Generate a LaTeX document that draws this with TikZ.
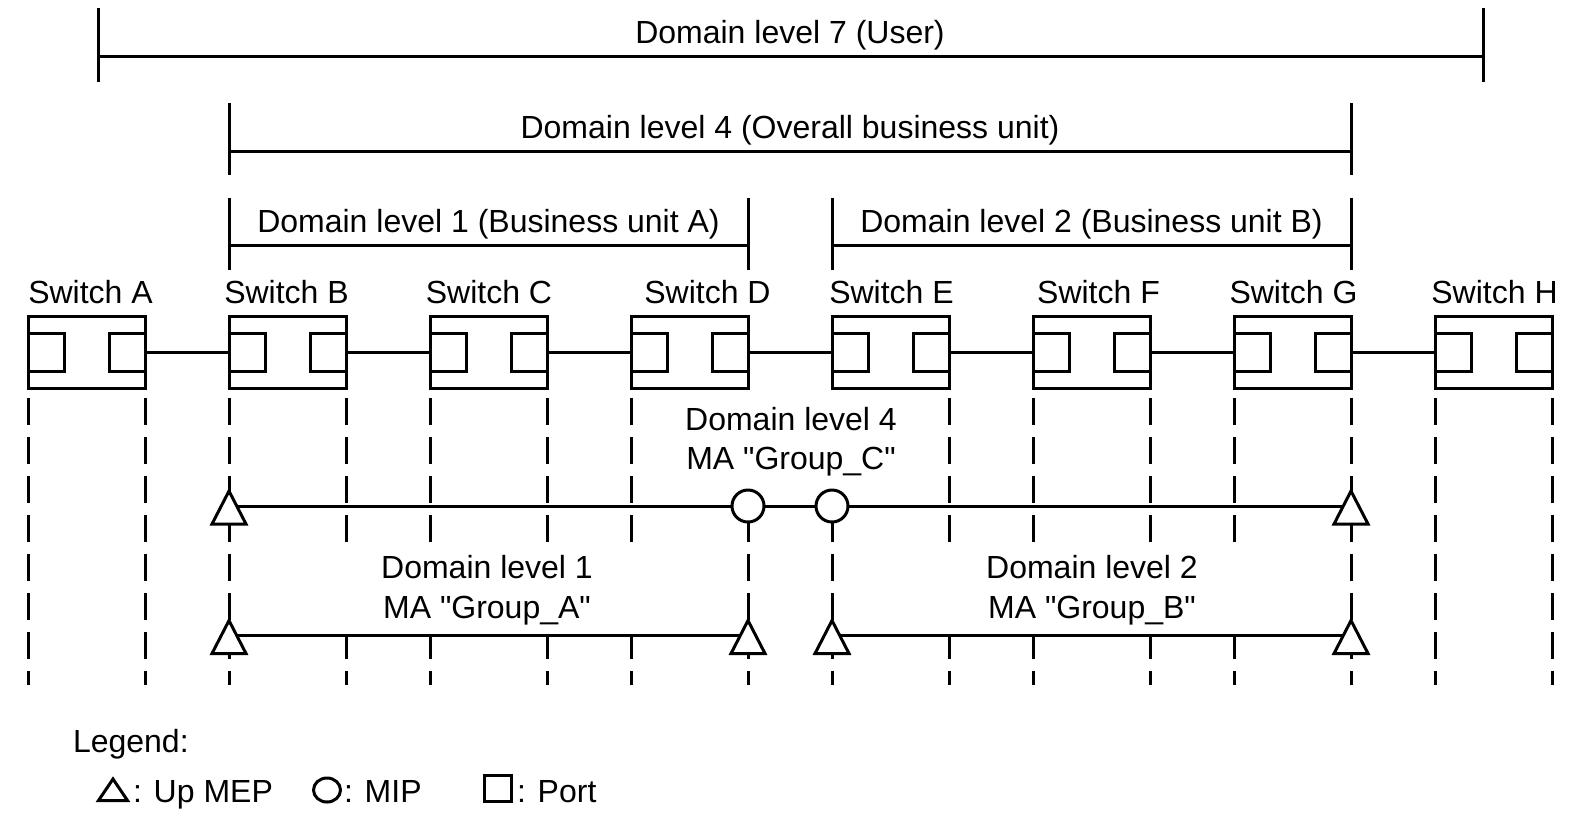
\documentclass[tikz,border=0pt]{standalone}
\usepackage{fontspec}
\setmainfont{Liberation Sans}[Ligatures=TeXOff]
\usetikzlibrary{calc}
\begin{document}
\begin{tikzpicture}[x=0.5pt,y=-0.5pt,
  every node/.style={font=\fontsize{16pt}{19pt}\selectfont, inner sep=0pt, outer sep=0pt},
  ln/.style={line width=1.5pt},
  swbox/.style={draw, line width=1.5pt, minimum width=58.5pt, minimum height=36pt},
  portbox/.style={draw, line width=1.5pt, minimum width=18pt, minimum height=19pt},
  guide/.style={line width=1.5pt, dash pattern=on 13.5pt off 6pt},
  bracket/.style={line width=1.5pt},
  mip/.style={draw, circle, line width=1.5pt, fill=white, minimum size=16pt},
  lbl/.style={anchor=base},
  masklow/.style={fill=white, minimum width=170pt, minimum height=46pt},
  tri/.style={line width=1.5pt, fill=white, line join=miter},
]
\fill[white] (0,0) rectangle (1582,821);
\useasboundingbox (0,0) rectangle (1582,821);

% domain brackets
\coordinate (d7l) at (98,56);   \coordinate (d7r) at (1483,56);
\coordinate (d4l) at (229,151.5); \coordinate (d4r) at (1351,151.5);
\coordinate (d1l) at (229,245.5); \coordinate (d1r) at (748,245.5);
\coordinate (d2l) at (832,245.5); \coordinate (d2r) at (1351,245.5);
\draw[bracket] (d7l) -- (d7r) (98,8) -- (98,82) (1483,8) -- (1483,82);
\draw[bracket] (d4l) -- (d4r) (229,103) -- (229,175) (1351,103) -- (1351,175);
\draw[bracket] (d1l) -- (d1r) (229,198) -- (229,270) (748,198) -- (748,270);
\draw[bracket] (d2l) -- (d2r) (832,198) -- (832,270) (1351,198) -- (1351,270);
\node[lbl] (t7) at (790,43) {Domain level 7 (User)};
\node[lbl] (t4) at (790,138.5) {Domain level 4 (Overall business unit)};
\node[lbl] (t1) at (488.5,232) {Domain level 1 (Business unit A)};
\node[lbl] (t2) at (1091.5,232) {Domain level 2 (Business unit B)};

% switches
\foreach \n/\dx [count=\i from 0] in {A/4,B/-1,C/0.5,D/18,E/1,F/7,G/1,H/1} {
  \node[swbox] (sw\n) at ({86.5+201*\i},352) {};
  \node[portbox, anchor=west] (sw\n-pl) at (sw\n.west) {};
  \node[portbox, anchor=east] (sw\n-pr) at (sw\n.east) {};
  \node[lbl] (sw\n-name) at ({86.5+201*\i+\dx},303) {Switch \n};
  \draw[guide] (sw\n.south west |- 0,398) -- (sw\n.south west |- 0,685);
  \draw[guide] (sw\n.south east |- 0,398) -- (sw\n.south east |- 0,685);
}
\foreach \a/\b in {A/B,B/C,C/D,D/E,E/F,F/G,G/H}
  \draw[ln] (sw\a.east) -- (sw\b.west);

% white masks behind the MA labels
\node[fill=white, minimum width=128pt, minimum height=49pt] (maskC) at (790,441) {};
\node[masklow] (maskA) at (488,589) {};
\node[masklow] (maskB) at (1092,589) {};

% MA lines
\coordinate (m4B) at (swB.west |- 0,506);
\coordinate (m4G) at (swG.east |- 0,506);
\node[mip] (mipD) at (swD.east |- 0,506) {};
\node[mip] (mipE) at (swE.west |- 0,506) {};
\draw[ln] (m4B) -- (mipD) -- (mipE) -- (m4G);
\coordinate (m1B) at (swB.west |- 0,635.5);
\coordinate (m1D) at (swD.east |- 0,635.5);
\coordinate (m2E) at (swE.west |- 0,635.5);
\coordinate (m2G) at (swG.east |- 0,635.5);
\draw[ln] (m1B) -- (m1D);
\draw[ln] (m2E) -- (m2G);
\foreach \p in {m4B,m4G,m1B,m1D,m2E,m2G}
  \draw[tri] (\p) ++(0,-15) -- ++(17,33) -- ++(-34,0) -- cycle;

\node[lbl] (ma4a) at (791,430) {Domain level 4};
\node[lbl] (ma4b) at (791,469) {MA "Group\_C"};
\node[lbl] (ma1a) at (487,578) {Domain level 1};
\node[lbl] (ma1b) at (487,618) {MA "Group\_A"};
\node[lbl] (ma2a) at (1092,578.5) {Domain level 2};
\node[lbl] (ma2b) at (1092,618) {MA "Group\_B"};

% legend
\node[anchor=base west] (leg) at (73,752) {Legend:};
\draw[tri] (113,779) -- (127.5,800.5) -- (98.5,800.5) -- cycle;
\node[anchor=base west] (legMEP) at (133,802) {: Up MEP};
\draw[ln] (327,790) ellipse [x radius=6.75pt, y radius=6pt];
\node[anchor=base west] (legMIP) at (344,802) {: MIP};
\draw[ln] (484.5,775.5) rectangle (511.5,801.5);
\node[anchor=base west] (legPort) at (517,802) {: Port};
\end{tikzpicture}
\end{document}
